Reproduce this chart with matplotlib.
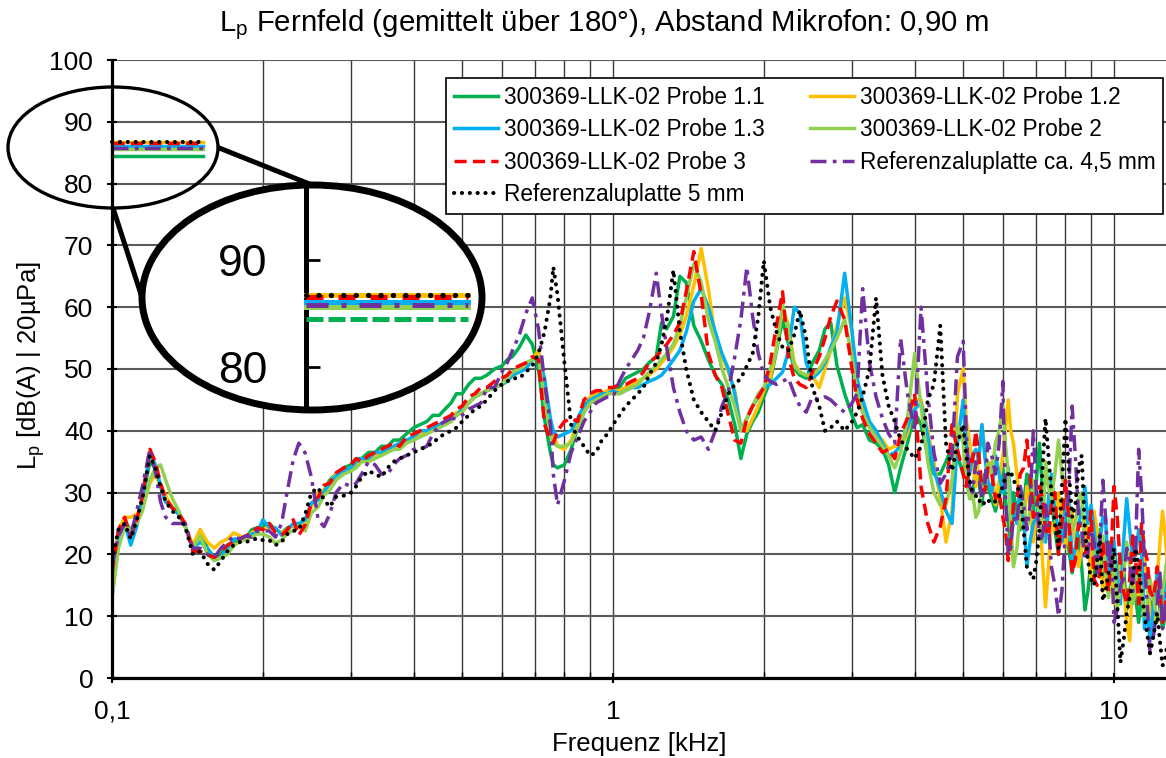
import matplotlib
matplotlib.use("Agg")
import matplotlib.pyplot as plt
from matplotlib.patches import Ellipse
from matplotlib.ticker import FixedLocator, NullFormatter

plt.rcParams["font.family"] = ["Liberation Sans", "DejaVu Sans"]
plt.rcParams["mathtext.fontset"] = "custom"
plt.rcParams["mathtext.rm"] = "Liberation Sans"
plt.rcParams["mathtext.it"] = "Liberation Sans:italic"
plt.rcParams["mathtext.bf"] = "Liberation Sans:bold"

# ---------------------------------------------------------------- data
# analysis frequencies in kHz (1/24 octave, 1/48 octave above 5 kHz)
freq_khz = [
    0.100, 0.103, 0.106, 0.109, 0.112, 0.115, 0.119, 0.122, 0.125, 0.128,
    0.132, 0.136, 0.140, 0.145, 0.150, 0.155, 0.160, 0.165, 0.170, 0.175,
    0.180, 0.185, 0.190, 0.195, 0.200, 0.206, 0.212, 0.218, 0.224, 0.230,
    0.236, 0.243, 0.250, 0.258, 0.265, 0.272, 0.280,
    0.290, 0.300, 0.307, 0.315, 0.325, 0.335, 0.345, 0.355, 0.365, 0.375,
    0.387, 0.400, 0.412, 0.425, 0.437, 0.450, 0.462, 0.475, 0.487, 0.500,
    0.515, 0.530, 0.545, 0.560, 0.580, 0.600, 0.615, 0.630, 0.650, 0.670,
    0.690, 0.710, 0.730, 0.750, 0.760, 0.775, 0.800, 0.825, 0.850, 0.875,
    0.900, 0.925, 0.950, 0.975, 1.000,
    1.03, 1.06, 1.09, 1.12, 1.15, 1.18, 1.22, 1.25, 1.28, 1.32,
    1.36, 1.40, 1.45, 1.50, 1.55, 1.60, 1.65, 1.70, 1.75, 1.80,
    1.85, 1.90, 1.95, 2.00, 2.06, 2.12, 2.18, 2.24, 2.30, 2.36,
    2.43, 2.50,
    2.58, 2.65, 2.72, 2.80, 2.90, 3.00, 3.07, 3.15, 3.25, 3.35,
    3.45, 3.55, 3.65, 3.75, 3.87, 4.00, 4.12, 4.25, 4.37, 4.50,
    4.62, 4.75, 4.87, 5.00,
    5.07, 5.15, 5.22, 5.30, 5.37, 5.45, 5.52, 5.60, 5.70, 5.80,
    5.90, 6.00, 6.07, 6.15, 6.22, 6.30, 6.40, 6.50, 6.60, 6.70,
    6.80, 6.90, 7.00, 7.10, 7.20, 7.30, 7.40, 7.50, 7.62, 7.75,
    7.87, 8.00, 8.12, 8.25, 8.37, 8.50, 8.62, 8.75, 8.87, 9.00,
    9.12, 9.25, 9.37, 9.50, 9.62, 9.75, 9.87, 10.0, 10.15, 10.3,
    10.45, 10.6, 10.75, 10.9, 11.05, 11.2, 11.35, 11.5, 11.65, 11.8,
    12.0, 12.2, 12.35, 12.5, 12.65, 12.8,
]

# sound pressure level Lp in dB(A), one value per frequency
lp_probe_1_1 = [
    15, 22, 25, 24, 25.5, 29, 35, 34, 31, 28.5, 27.5, 26.5, 24.5, 21, 24, 21, 19.5, 20, 21.5, 22,
    22.5, 22.5, 24, 24.3, 24.6, 25, 24, 23.5, 24.3, 24.6, 24.6, 25, 28.3, 29, 30.4, 32, 33,
    34, 34.5, 35.5, 35.5, 36.5, 36.5, 37.5, 37.5, 38.5, 38.5, 39.5, 40.5, 41, 41.5, 42.5, 42.5,
    43.5, 44.5, 46, 46, 47.5, 48.5, 48.5, 49, 50, 50.5, 51.5, 52, 53.5, 55.5, 54, 50, 42, 36.5,
    34.5, 34, 34.5, 37, 40.5, 43, 44.5, 45, 45.5, 46, 46.5,
    47, 48.5, 49, 49.5, 50, 51, 52, 57.5, 56.5, 58.5, 65, 64, 57, 54.5, 51.5, 49, 47.5, 45, 41,
    35.5, 39.5, 41.5, 43, 45.5, 48, 53, 58, 54, 50, 49, 48.5, 51,
    53, 56.5, 57.5, 50.5, 46, 42.5, 40.5, 41, 38.5, 38, 37, 34.5, 30, 34, 38, 43, 41, 36, 33, 33,
    35, 37.5, 36, 33,
    36, 30, 29, 35, 32, 28, 33, 31, 29, 27, 30, 34, 29, 25, 22, 30, 27, 24, 28, 33,
    29, 27, 32, 38, 30, 23, 27, 29, 24, 20, 29, 26, 21, 17, 20, 23, 18, 11, 14, 19,
    17, 23, 24, 15, 17, 22, 18, 13, 16, 20, 18, 11, 14, 17, 13, 9, 13, 15, 17, 10,
    13, 16, 11, 8, 10, 12,
]
lp_probe_1_2 = [
    16, 24, 26, 26, 26.5, 27.5, 31.5, 33, 31, 29.5, 27.5, 26.5, 24.5, 21.5, 24, 22, 21, 22, 22.5,
    23.5, 23, 22.5, 23.5, 24, 24, 24.5, 24, 23.5, 24, 24.7, 25, 25, 27.7, 30, 30.4, 31.5, 33,
    33.5, 34, 34.5, 35.5, 35, 36, 36.5, 37, 37.5, 37.5, 38, 39, 39.5, 39.5, 40.5, 41, 41, 41.5,
    43, 43, 44.5, 45.5, 46, 46.5, 47, 47.5, 48, 49, 49.5, 50.5, 51.5, 53, 47, 41, 39.5, 37.5, 37,
    38.5, 41.5, 44, 45.5, 46, 46, 46.5, 46.5,
    46.5, 47, 47.5, 48, 48.5, 49, 50, 51, 52, 53.5, 55.5, 58.5, 63.5, 69.5, 63, 55, 52, 49.5,
    46.5, 40.5, 40, 42, 44, 46.5, 48.5, 53.5, 60, 57, 51, 49.5, 49, 49,
    47, 50, 53, 57, 61.5, 56, 48, 44, 41, 39.5, 38.5, 37, 37.5, 37.5, 39.5, 45, 45, 40, 35, 29,
    22, 27, 46, 50,
    42, 38, 35, 31, 36, 41, 37, 33, 35, 28, 32, 36, 40, 45, 40, 38, 33, 27, 24, 31,
    28, 22, 26, 27, 19, 11.5, 18, 25, 24, 30, 26, 21, 25, 27, 22, 18, 21, 26, 22, 16,
    27, 24, 20, 14, 16, 21, 17, 12, 14, 19, 15, 9, 6, 17, 15, 13, 17, 20, 15, 11,
    8, 16, 22, 27, 23, 18,
]
lp_probe_1_3 = [
    13, 22, 25, 21.5, 24.5, 29, 36.5, 34.5, 31, 28.5, 27.5, 26.5, 24.5, 21, 22, 21, 19, 19.5, 21,
    22.5, 22.5, 22.5, 23.3, 23.5, 25.6, 24.4, 24.3, 23.1, 24, 25, 25, 25.6, 28.3, 28.8, 30.1, 31.5,
    32.7,
    33.5, 34, 35, 35.5, 35.5, 36.5, 36.5, 37, 37.5, 38, 38.5, 39, 40, 40, 40.5, 41, 41.5, 42,
    42.5, 43.5, 44.5, 45.5, 46, 46.5, 47, 47.5, 48, 49, 49.5, 50, 51.5, 52, 48.5, 42, 40, 39,
    39.5, 40, 42, 44, 45, 45.5, 46, 46, 46.5,
    46, 46.5, 47, 47, 47.5, 48, 48.5, 49, 50, 51.5, 53, 56, 61, 63, 60, 56, 52.5, 50, 46, 40, 42,
    44, 45.5, 47, 47.5, 48.5, 49.5, 53, 60, 59, 51, 48.5,
    49.5, 51, 53.5, 56, 65.5, 56, 48.5, 45, 41.5, 40, 38, 36, 36.5, 37.5, 40.5, 43.5, 44.5, 39,
    33.5, 30.5, 27, 25, 38, 45,
    38, 33, 36, 37, 35, 41, 36, 32, 30, 36, 33, 30, 31, 34, 29, 27, 25, 31, 26, 18,
    22, 25, 26, 30, 27, 22, 29, 33, 27, 24, 22, 28, 30, 19, 21, 25, 27, 31, 25, 28,
    24, 20, 22, 26, 26, 16, 19, 22, 17, 12, 22, 29, 24, 19, 20, 24, 21, 8, 11, 6,
    12, 17, 14, 11, 14, 19,
]
lp_probe_2 = [
    13, 21, 24.5, 24, 25, 27, 32, 34, 34.5, 32, 29, 27, 24.5, 21, 23, 20, 19, 19.5, 20, 21.5, 22,
    22.5, 22.8, 23.3, 23.3, 22.8, 21.8, 22.3, 23.5, 23.8, 24.6, 23.8, 26.7, 27.7, 29.6, 30.4, 32,
    33, 33.5, 34, 35, 35, 35.5, 36, 36.5, 37, 37, 38, 38.5, 39, 39.5, 40, 40.5, 41, 41.5, 42.5,
    43, 44.5, 45.5, 46, 46.5, 47, 47.5, 48.5, 49.5, 50, 51, 51.5, 52, 45, 39.5, 38, 37.5, 37.5,
    38, 40.5, 43, 44.5, 45, 45.5, 46, 46,
    46, 46.5, 47, 47.5, 48.5, 49.5, 50.5, 51.5, 52.5, 54, 57, 61.5, 67, 64, 58, 54.5, 50, 47, 44,
    40, 42, 44, 46, 47, 50, 53, 60.5, 56, 50.5, 49.5, 49, 49,
    50, 51.5, 53, 55, 58, 52, 46, 43, 40.5, 39, 37.5, 36, 34, 36.5, 42, 52.5, 44, 35, 30, 28, 28,
    32, 41, 38,
    32, 29, 30, 26, 27, 31, 30, 35, 33, 38, 40, 44, 38, 33, 25, 18, 21, 27, 29, 24,
    27, 32, 30, 26, 22, 35, 31, 29, 33, 38.5, 33, 30, 28, 24, 25, 29, 30, 21, 22, 25,
    20, 17, 19, 23, 18, 13, 16, 20, 11, 15, 17, 22, 18, 12, 14, 18, 14, 10, 12, 16,
    13, 9, 10, 14, 17, 20,
]
lp_probe_3 = [
    17, 24, 26, 23, 25.5, 29.5, 37, 35, 31.5, 29, 27.5, 26.5, 25, 20.5, 20.5, 20, 19.5, 20.5, 21.5,
    22, 22.5, 23, 23.5, 24.3, 24, 25, 23.5, 23.1, 24, 25.6, 23.1, 24.8, 28.3, 29.3, 31.2, 31.5,
    33.2,
    34, 34.5, 35.5, 35, 36, 36.5, 37, 37.5, 38, 37.5, 39, 39.5, 40, 40.5, 41, 41.5, 42, 42.5, 43.5,
    44, 45.5, 46, 47, 47, 48, 48.5, 49, 50, 50.5, 51, 52, 51.5, 41, 38.5, 38, 40, 41.5, 42, 41.5,
    45, 46, 46.5, 46.5, 47, 47,
    47.5, 47.5, 48, 48.5, 49.5, 51, 52, 53, 54, 55.5, 57.5, 62.5, 69, 62, 52.5, 49, 47, 42.5, 38.5,
    38, 42, 44, 45.5, 47, 51, 57, 62.5, 52, 48.5, 47.5, 47, 49.5,
    52, 55, 58.5, 61, 58, 50, 45, 42, 39.5, 38, 36.5, 37, 35.5, 39.5, 42, 46, 31, 25, 22, 24.5,
    29, 41, 37, 33,
    31, 36, 35, 40, 36, 31, 30, 34, 33, 29, 30, 26, 24, 19, 22, 28, 29, 33, 34, 38.5,
    33, 26, 27, 31, 29, 24, 23, 28, 30, 20, 25, 32, 26, 17, 19, 25, 24, 20, 22, 27,
    16, 15, 17, 22, 18, 14, 20, 31, 26, 18, 14, 12, 16, 23, 19, 12, 25, 21, 19, 14,
    13, 18, 14, 9, 11, 15,
]
lp_ref_45mm = [
    18, 23, 25, 23, 27, 31, 37, 33.5, 28.5, 26, 25, 25, 25, 21, 21, 20, 19.5, 21, 22, 23, 22.5,
    23, 22.8, 23.8, 23.8, 23.8, 22.8, 25, 30.4, 35.3, 38, 36.4, 32.5, 25.6, 24.5, 26.5, 30,
    31.5, 31, 31.5, 33, 35, 34.5, 33, 33, 34.5, 35.5, 36, 37, 37, 37.5, 39.5, 41, 41.5, 42, 42,
    42.5, 43.5, 44, 44.5, 47, 47, 49.5, 51, 53, 55.5, 59, 61.5, 56.5, 48, 41, 33, 28, 32, 36.5,
    39, 41.5, 43, 44.5, 45, 45.5, 45.5,
    48, 50, 51.5, 53, 55, 59, 65.5, 59, 53.5, 47, 43, 40, 38.5, 39, 37, 40, 44, 46.5, 52, 58,
    66.5, 58.5, 52.5, 49, 48, 47.5, 48, 48.5, 46, 44, 43, 45.5,
    45, 45.5, 45, 44, 43, 44.5, 46, 63, 51, 45.5, 42, 39.5, 38, 55, 46, 40, 60, 46, 36.5, 31.5,
    33, 36, 52, 54.5,
    40, 31, 30, 35, 33, 29, 31, 38, 36, 33, 38, 48, 30, 20, 21, 26, 25, 31, 28, 24,
    28, 40, 30, 22, 23, 28, 25, 18, 15, 10, 14, 24, 30, 44, 36, 26, 24, 19, 20, 24,
    22, 17, 22, 32, 26, 18, 22, 9, 11, 15, 16, 21, 19, 14, 22, 37, 30, 19, 12, 4,
    7, 12, 17, 8, 10, 15,
]
lp_ref_5mm = [
    19, 24, 25, 22.5, 25.5, 29, 36, 34, 31, 28.5, 27, 26, 24.5, 20, 20.5, 18.5, 17.5, 19, 20.5,
    21.5, 22, 22, 22.3, 22.6, 22.3, 22.3, 21.5, 22, 23.3, 23.8, 24, 26.5, 30, 30.8, 28.8, 27.7,
    29.3,
    29.5, 30, 31, 32.5, 33.5, 33, 32.5, 34, 35, 35.5, 36, 36.5, 37, 37.5, 38, 39, 39.5, 40, 40.5,
    41.5, 42.5, 43.5, 44, 45, 46.5, 47.5, 48, 48.5, 48.5, 49.5, 50.5, 52.5, 56, 61.5, 66.5, 62,
    51, 41, 39, 37.5, 36, 36.5, 38.5, 39.5, 41,
    42.5, 44, 45, 46, 47, 49, 51, 54, 58, 66, 56, 50, 45, 43, 41.5, 40, 43, 46, 47.5, 48.5, 50.5,
    52.5, 58.5, 67.5, 60, 56, 53.5, 53, 55.5, 59.5, 55, 47,
    44, 40, 40.5, 41.5, 40, 41.5, 43, 45.5, 50, 61.5, 49, 44, 41.5, 38.5, 37, 35.5, 37.5, 45,
    47.5, 57, 38, 33.5, 38, 41,
    36, 32, 30, 29.5, 28.5, 29, 28, 28.5, 29, 28.5, 29.5, 31, 32.5, 33, 33.5, 32, 31, 30, 24, 18,
    17, 16, 19, 24, 34, 42, 36, 30, 25, 21, 31, 42, 34, 26, 28, 34, 36, 24, 19, 16,
    15, 19, 23, 12.5, 14, 17, 18, 21, 12, 2.5, 6, 10.5, 13, 16, 21, 18, 14, 10.5, 7, 4,
    7, 10.5, 6, 2, 3, 6,
]

# overall A-weighted level of each measurement (shown in the magnifier)
overall_levels = [84.5, 86.7, 86.1, 85.6, 86.5, 85.8, 86.7]

series_labels = [
    "300369-LLK-02 Probe 1.1",
    "300369-LLK-02 Probe 1.2",
    "300369-LLK-02 Probe 1.3",
    "300369-LLK-02 Probe 2",
    "300369-LLK-02 Probe 3",
    "Referenzaluplatte ca. 4,5 mm",
    "Referenzaluplatte 5 mm",
]
series_values = [lp_probe_1_1, lp_probe_1_2, lp_probe_1_3, lp_probe_2,
                 lp_probe_3, lp_ref_45mm, lp_ref_5mm]

x_major_ticks = [0.1, 1, 10]
x_tick_labels = ["0,1", "1", "10"]
y_ticks = [0, 10, 20, 30, 40, 50, 60, 70, 80, 90, 100]
y_tick_labels = [str(v) for v in y_ticks]

# ---------------------------------------------------------------- styles
styles = [
    dict(color="#00B050", linestyle="-", linewidth=2.5),
    dict(color="#FFC000", linestyle="-", linewidth=2.5),
    dict(color="#00B0F0", linestyle="-", linewidth=2.5),
    dict(color="#92D050", linestyle="-", linewidth=2.5),
    dict(color="#FF0000", linestyle=(0, (3.5, 1.8)), linewidth=2.5),
    dict(color="#7030A0", linestyle=(0, (4.6, 1.8, 1.1, 1.8)), linewidth=2.5),
    dict(color="#000000", linestyle=(0, (0.05, 1.9)), linewidth=2.9,
         dash_capstyle="round"),
]
# heavier strokes for the magnified view
big_styles = [
    dict(color="#00B050", linestyle=(0, (3.4, 1.0)), linewidth=3.6),
    dict(color="#FFC000", linestyle="-", linewidth=3.6),
    dict(color="#00B0F0", linestyle="-", linewidth=3.6),
    dict(color="#92D050", linestyle="-", linewidth=3.6),
    dict(color="#FF0000", linestyle=(0, (3.4, 3.0)), linewidth=3.6),
    dict(color="#7030A0", linestyle=(0, (4.4, 2.6, 1.0, 2.6)), linewidth=3.6),
    dict(color="#000000", linestyle=(0, (0.05, 2.3)), linewidth=3.8,
         dash_capstyle="round"),
]

# ---------------------------------------------------------------- figure
W, H = 1166, 758
fig = plt.figure(figsize=(W / 100, H / 100), dpi=100)
ax = fig.add_axes([112 / W, 1 - 678 / H, (W - 112) / W, 618 / H])

handles = []
for i, (vals, lab, st) in enumerate(zip(series_values, series_labels, styles)):
    (h,) = ax.plot(freq_khz, vals, label=lab, zorder=3 + i, **st)
    handles.append(h)

ax.set_xscale("log")
ax.set_xlim(0.1, 12.7)
ax.set_ylim(0, 100)
ax.set_xticks(x_major_ticks, labels=x_tick_labels)
ax.xaxis.set_minor_locator(FixedLocator([m * d for d in (0.1, 1) for m in range(2, 10)]))
ax.xaxis.set_minor_formatter(NullFormatter())
ax.set_yticks(y_ticks, labels=y_tick_labels)

ax.set_axisbelow(True)
ax.grid(True, which="major", axis="y", color="#5a5a5a", linewidth=1.5)
ax.grid(True, which="both", axis="x", color="#3a3a3a", linewidth=1.0)

for side in ("top", "right"):
    ax.spines[side].set_visible(False)
for side in ("left", "bottom"):
    ax.spines[side].set_linewidth(2.3)
    ax.spines[side].set_color("black")
    ax.spines[side].set_zorder(20)

ax.tick_params(axis="y", direction="inout", length=7, width=1.5, labelsize=19, pad=10)
ax.tick_params(axis="x", which="major", direction="inout", length=7, width=1.5,
               labelsize=19, pad=12)
ax.tick_params(axis="x", which="minor", direction="in", length=4, width=1.0)

ax.set_xlabel("Frequenz [kHz]", fontsize=18.5)
ax.xaxis.set_label_coords(0.5, -0.088)
ax.set_ylabel("L$_\\mathregular{p}$ [dB(A) | 20µPa]", fontsize=18.5)
ax.yaxis.set_label_coords(-0.062, 0.505)

fig.text(604 / W, 1 - 25 / H,
         "L$_\\mathregular{p}$ Fernfeld (gemittelt über 180°), Abstand Mikrofon: 0,90 m",
         ha="center", va="center", fontsize=21.2)

order = [0, 2, 4, 6, 1, 3, 5]
leg = ax.legend([handles[i] for i in order], [series_labels[i] for i in order],
                ncol=2, loc="upper left", bbox_to_anchor=(0.317, 0.971),
                fontsize=16.3, frameon=True, fancybox=False, framealpha=1,
                edgecolor="black", handlelength=1.95, handletextpad=0.25,
                columnspacing=2.0, labelspacing=0.42, borderpad=0.35,
                borderaxespad=0)
leg.get_frame().set_linewidth(1.2)
leg.set_zorder(30)

# overall levels, short marks at the left of the chart
for lvl, st in zip(overall_levels, styles):
    ax.plot([0.1, 0.152], [lvl, lvl], zorder=12, clip_on=False, **st)

# ---------------------------------------------------------------- magnifier
small_cx, small_cy, small_w, small_h = 113, 147.5, 210, 121
big_cx, big_cy, big_w, big_h = 312, 297.5, 340, 225

ov = fig.add_axes([0, 0, 1, 1])
ov.set_xlim(0, W)
ov.set_ylim(H, 0)
ov.axis("off")
ov.add_patch(Ellipse((small_cx, small_cy), small_w, small_h, fill=False,
                     edgecolor="black", linewidth=2.4))
ov.plot([small_cx + small_w / 2, big_cx], [small_cy, big_cy - big_h / 2],
        color="black", linewidth=3.6, solid_capstyle="butt")
ov.plot([small_cx, big_cx - big_w / 2], [small_cy + small_h / 2, big_cy],
        color="black", linewidth=3.6, solid_capstyle="butt")

ax_in = fig.add_axes([(big_cx - big_w / 2) / W, 1 - (big_cy + big_h / 2) / H,
                      big_w / W, big_h / H])
ax_in.patch.set_visible(False)
ax_in.set_xscale("log")
ax_in.set_xlim(0.0628, 0.1643)
ax_in.set_ylim(75.94, 97.03)
lens = Ellipse((0.5, 0.5), 1, 1, transform=ax_in.transAxes, facecolor="white",
               edgecolor="black", linewidth=5, zorder=0, clip_on=False)
ax_in.add_patch(lens)
for i, (lvl, st) in enumerate(zip(overall_levels, big_styles)):
    ln, = ax_in.plot([0.1, 0.158], [lvl, lvl], zorder=3 + i, **st)
    ln.set_clip_path(lens)
for side in ("top", "right", "bottom"):
    ax_in.spines[side].set_visible(False)
ax_in.spines["left"].set_position(("data", 0.1))
ax_in.spines["left"].set_linewidth(3.6)
ax_in.set_xticks([])
ax_in.xaxis.set_minor_locator(FixedLocator([]))
ax_in.set_yticks([80, 90], labels=["80", "90"])
ax_in.tick_params(axis="y", direction="in", length=10, width=2, labelsize=32, pad=28)

fig.savefig("out.png", dpi=100)
